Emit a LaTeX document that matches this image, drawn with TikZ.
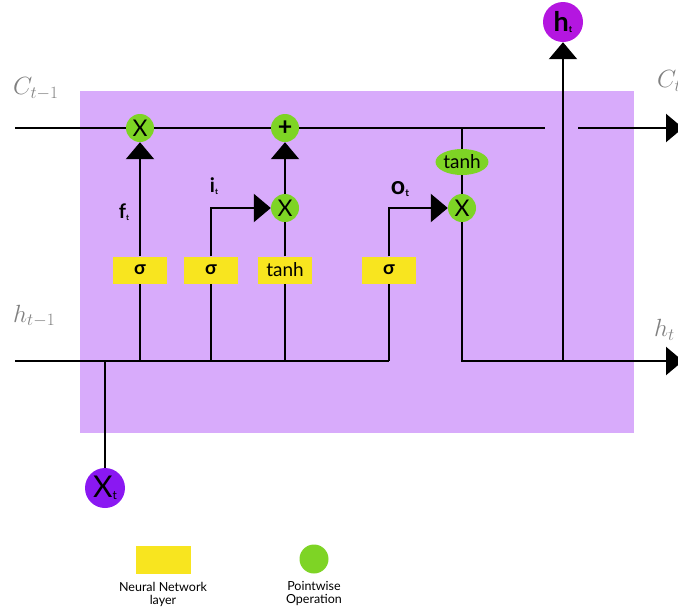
\documentclass[tikz,border=0pt]{standalone}
\usepackage{fontspec}
\setmainfont{Lato}
\usetikzlibrary{arrows.meta,shapes.geometric}
\definecolor{cellbg}{HTML}{D8ABFB}
\definecolor{gatelayer}{HTML}{F8E51F}
\definecolor{pointop}{HTML}{7ED425}
\definecolor{inputdot}{HTML}{8A18F2}
\definecolor{outputdot}{HTML}{B416E0}
\definecolor{statelabel}{HTML}{808080}
\newcommand{\gsub}[2][8]{\raisebox{-1.5pt}{\fontsize{#1}{#1}\selectfont #2}}
\tikzset{
  wire/.style={line width=2.3pt},
  arr/.style={wire,-{Triangle[width=28pt,length=17pt]}},
  layerbox/.style={fill=gatelayer,minimum width=54pt,minimum height=27pt,inner sep=0pt,font=\fontsize{19}{19}\selectfont},
  opdot/.style={circle,fill=pointop,minimum size=28pt,inner sep=0pt,font=\fontsize{23}{23}\selectfont},
  bigdot/.style={circle,minimum size=40pt,inner sep=0pt},
  gatelabel/.style={font=\bfseries\fontsize{20}{20}\selectfont,inner sep=0pt},
  statetext/.style={text=statelabel,inner sep=0pt,font=\fontsize{23}{23}\selectfont}
}
\begin{document}
\begin{tikzpicture}[x=1pt,y=-1pt]
\useasboundingbox (0,0) rectangle (678,611);
% cell background
\fill[cellbg] (80,91) rectangle (634,433);

% pointwise operations
\node[opdot] (fx) at (140,128) {X};
\node[opdot,font=\bfseries\fontsize{25}{25}\selectfont] (plus) at (285,128) {+};
\node[opdot] (ix) at (285,208) {X};
\node[opdot] (ox) at (462,208) {X};
\node[ellipse,fill=pointop,minimum width=52pt,minimum height=26pt,inner sep=0pt,font=\fontsize{19}{19}\selectfont] (tc) at (462,162) {tanh};

% neural network layers
\node[layerbox] (sf) at (140,270) {\bfseries σ};
\node[layerbox] (si) at (211,270) {\bfseries σ};
\node[layerbox] (sc) at (285,270) {tanh};
\node[layerbox] (so) at (389,270) {\bfseries σ};

% input and output
\node[bigdot,fill=outputdot,font=\bfseries\fontsize{27}{27}\selectfont] (ht) at (563,22) {h\gsub[9]{t}};
\node[bigdot,fill=inputdot,font=\fontsize{30}{30}\selectfont] (xt) at (105,488) {X\gsub[12]{t}};

% wire points
\coordinate (cin) at (15,128);
\coordinate (cgapl) at (545,128);
\coordinate (cgapr) at (578,128);
\coordinate (cout) at (683,128);
\coordinate (ctap) at (462,128);
\coordinate (hin) at (15,361);
\coordinate (xj) at (105,361);
\coordinate (fj) at (140,361);
\coordinate (ij) at (211,361);
\coordinate (cj) at (285,361);
\coordinate (oj) at (389,361);
\coordinate (ibend) at (211,208);
\coordinate (obend) at (389,208);
\coordinate (hcorner) at (462,361);
\coordinate (hj) at (563,361);
\coordinate (hout) at (683,361);

% cell state line
\draw[wire] (cin) -- (fx) -- (plus) -- (cgapl);
\draw[arr] (cgapr) -- (cout);
\draw[wire] (ctap) -- (tc) -- (ox);

% hidden state line
\draw[wire] (hin) -- (oj);
\draw[wire] (xj) -- (xt);

% forget gate
\draw[wire] (fj) -- (sf);
\draw[arr] (sf) -- (fx);
% input gate
\draw[wire] (ij) -- (si);
\draw[arr] (si) -- (ibend) -- (ix);
\draw[wire] (cj) -- (sc) -- (ix);
\draw[arr] (ix) -- (plus);
% output gate
\draw[wire] (oj) -- (so);
\draw[arr] (so) -- (obend) -- (ox);
\draw[arr] (ox) -- (hcorner) -- (hout);
\draw[arr] (hj) -- (ht);

% redraw layers above their wires
\node[layerbox] at (sf) {\bfseries σ};
\node[layerbox] at (si) {\bfseries σ};
\node[layerbox] at (sc) {tanh};
\node[layerbox] at (so) {\bfseries σ};

% gate labels
\node[gatelabel] (flab) at (124,212) {f\gsub[8]{t}};
\node[gatelabel] (ilab) at (214,186) {i\gsub[8]{t}};
\node[gatelabel,font=\bfseries\fontsize{25}{25}\selectfont] (olab) at (400,189) {o\gsub[10]{t}};

% state labels
\node[statetext,anchor=west] (cprev) at (13,89) {$C_{t-1}$};
\node[statetext,anchor=west] (hprev) at (13,316) {$h_{t-1}$};
\node[statetext,anchor=west] (cnext) at (657,81) {$C_t$};
\node[statetext,anchor=west] (hnext) at (654,330) {$h_t$};

% legend
\node[fill=gatelayer,minimum width=55pt,minimum height=28pt,inner sep=0pt] (leglayer) at (163,560) {};
\node[align=center,font=\fontsize{12.5}{13}\selectfont,inner sep=0pt] (leglayertxt) at (163,594) {Neural Network\\layer};
\node[circle,fill=pointop,minimum size=29pt,inner sep=0pt] (legop) at (314,559) {};
\node[align=center,font=\fontsize{12.5}{13}\selectfont,inner sep=0pt] (legoptxt) at (314,594) {Pointwise\\Operation};
\end{tikzpicture}
\end{document}
